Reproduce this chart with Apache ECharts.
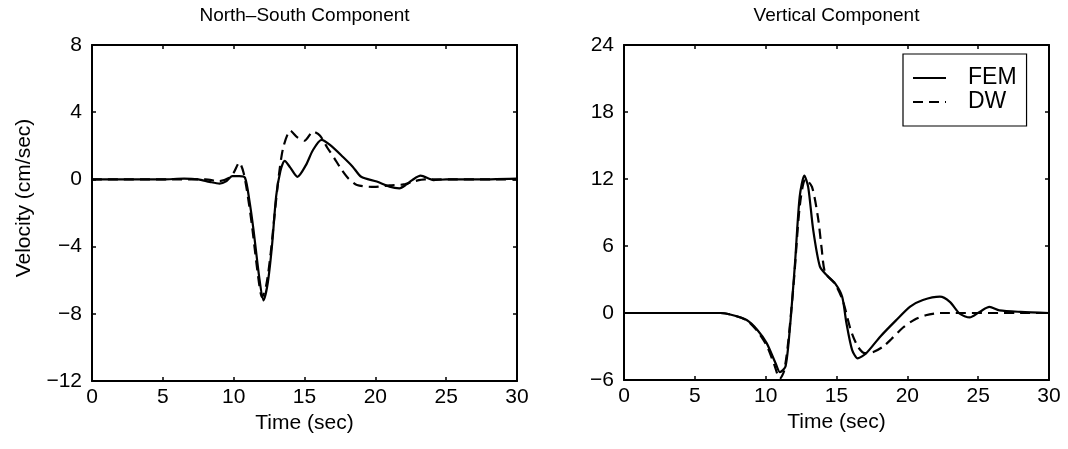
<!DOCTYPE html>
<html>
<head>
<meta charset="utf-8">
<script src="https://cdn.jsdelivr.net/npm/echarts@6/dist/echarts.min.js"></script>
<style>
html,body{margin:0;padding:0;background:#fff;}
#chart{width:1068px;height:449px;}
</style>
</head>
<body>
<div id="chart"></div>
<script>
// ---- Data ----
const titles = ['North\u2013South Component', 'Vertical Component'];
const xTicks = [0, 5, 10, 15, 20, 25, 30];
const nsYTicks = [-12, -8, -4, 0, 4, 8];
const vYTicks = [-6, 0, 6, 12, 18, 24];

// North-South component, FEM (solid)
const nsFemT = [0, 5, 6.5, 7.5, 8.3, 9.0, 9.5, 9.9, 10.4, 10.8, 11.1, 11.4, 11.8, 12.1, 12.4, 12.7, 13.0, 13.3, 13.6, 14.0, 14.5, 15.1, 15.6, 16.2, 16.8, 17.7, 18.4, 19.0, 20.1, 21.0, 21.7, 22.2, 22.6, 23.2, 24.1, 25, 27, 30];
const nsFemV = [0, 0, 0.05, 0, -0.15, -0.25, -0.1, 0.2, 0.2, 0.1, -1.2, -3.0, -5.8, -7.2, -6.2, -4.0, -1.0, 0.5, 1.1, 0.7, 0.15, 0.85, 1.75, 2.35, 2.05, 1.35, 0.76, 0.16, -0.13, -0.43, -0.53, -0.3, -0.04, 0.22, -0.04, 0, 0, 0.05];
// North-South component, DW (dashed)
const nsDwT = [0, 8, 9.0, 9.7, 10.0, 10.4, 10.7, 11.0, 11.3, 11.7, 12.0, 12.3, 12.6, 12.9, 13.2, 13.5, 14.0, 14.5, 15.0, 15.6, 16.1, 16.6, 17.1, 17.6, 18.1, 18.7, 19.9, 21.0, 22.0, 22.8, 23.5, 30];
const nsDwV = [0, 0, -0.1, 0.1, 0.4, 1.0, 0.4, -1.0, -2.8, -5.6, -7.0, -6.3, -4.5, -2.0, 0.3, 1.9, 2.9, 2.5, 2.3, 2.85, 2.6, 1.9, 1.27, 0.6, 0.05, -0.33, -0.45, -0.35, -0.3, -0.1, 0, 0];

// Vertical component, FEM (solid)
const vFemT = [0, 6.8, 7.7, 8.66, 9.4, 10.07, 10.7, 11.0, 11.4, 11.7, 12.07, 12.4, 12.73, 13.0, 13.36, 13.83, 14.3, 14.9, 15.4, 15.7, 16.1, 16.5, 17.1, 18.1, 19.2, 20.2, 21.1, 22.3, 23.0, 23.7, 24.4, 25.1, 25.8, 26.5, 28.0, 30];
const vFemV = [0, 0, -0.2, -0.63, -1.5, -2.7, -4.5, -5.3, -4.8, -1.5, 4.45, 10.4, 12.3, 11.3, 7.4, 4.15, 3.4, 2.65, 1.46, -0.9, -3.3, -4.06, -3.6, -2.1, -0.66, 0.57, 1.16, 1.46, 1.0, -0.06, -0.4, 0.1, 0.54, 0.24, 0.1, 0];
// Vertical component, DW (dashed)
const vDwT = [0, 6.8, 7.7, 8.66, 9.4, 10.07, 10.6, 11.0, 11.3, 11.6, 12.0, 12.4, 12.8, 13.27, 13.7, 13.95, 14.2, 14.9, 15.45, 16.0, 16.5, 17.0, 17.6, 18.3, 18.9, 19.7, 20.5, 21.3, 22.3, 30];
const vDwV = [0, 0, -0.2, -0.65, -1.6, -2.9, -4.6, -5.9, -5.2, -2.5, 3.0, 9.5, 12.0, 11.3, 8.5, 5.8, 3.6, 2.6, 1.1, -1.5, -3.0, -3.6, -3.5, -3.0, -2.3, -1.3, -0.6, -0.2, 0, 0];

// ---- Build chart ----
const FONT = 'Liberation Sans, Arial, Helvetica, sans-serif';
const pairs = (t, v) => t.map((x, i) => [x, v[i]]);
const minusFmt = v => String(v).replace('-', '\u2212');

const grids = [
  {left: 92, top: 45, width: 425, height: 336},
  {left: 624, top: 45, width: 425, height: 335}
];
const yTickSets = [nsYTicks, vYTicks];

const axisLine = {show: true, onZero: false, lineStyle: {color: '#000', width: 2}};
const axisTick = {show: true, inside: true, length: 4, lineStyle: {color: '#000', width: 1.5}};

const xAxis = [], yAxis = [];
grids.forEach((g, i) => {
  const yt = yTickSets[i];
  const yInt = yt[1] - yt[0];
  // bottom x
  xAxis.push({
    type: 'value', gridIndex: i, position: 'bottom',
    min: xTicks[0], max: xTicks[xTicks.length - 1], interval: xTicks[1] - xTicks[0],
    axisLine, axisTick, splitLine: {show: false},
    axisLabel: {color: '#000', fontSize: 21, fontFamily: FONT, margin: 6},
    name: 'Time (sec)', nameLocation: 'middle', nameGap: 31,
    nameTextStyle: {color: '#000', fontSize: 21, fontFamily: FONT}
  });
  // top x (ticks only, carries title)
  xAxis.push({
    type: 'value', gridIndex: i, position: 'top',
    min: xTicks[0], max: xTicks[xTicks.length - 1], interval: xTicks[1] - xTicks[0],
    axisLine, axisTick, splitLine: {show: false}, axisLabel: {show: false},
    name: titles[i], nameLocation: 'middle', nameGap: 20,
    nameTextStyle: {color: '#000', fontSize: 19, fontFamily: FONT}
  });
  // left y
  yAxis.push({
    type: 'value', gridIndex: i, position: 'left',
    min: yt[0], max: yt[yt.length - 1], interval: yInt,
    axisLine, axisTick, splitLine: {show: false},
    axisLabel: {color: '#000', fontSize: 21, fontFamily: FONT, margin: 10, formatter: minusFmt},
    name: i === 0 ? 'Velocity (cm/sec)' : '', nameLocation: 'middle', nameGap: 57,
    nameTextStyle: {color: '#000', fontSize: 21, fontFamily: FONT, padding: [0, 0, 0, 30]}
  });
  // right y (ticks only)
  yAxis.push({
    type: 'value', gridIndex: i, position: 'right',
    min: yt[0], max: yt[yt.length - 1], interval: yInt,
    axisLine, axisTick, splitLine: {show: false}, axisLabel: {show: false}
  });
});

const lineSeries = (name, data, gi, dashed) => ({
  name, type: 'line', data, xAxisIndex: gi * 2, yAxisIndex: gi * 2,
  showSymbol: false, symbol: 'none', smooth: 0.25, animation: false,
  lineStyle: {color: '#000', width: 2.2, type: dashed ? [10, 6] : 'solid'},
  itemStyle: {color: '#000'}
});

const option = {
  backgroundColor: '#fff',
  animation: false,
  grid: grids,
  xAxis, yAxis,
  legend: {
    data: ['FEM', 'DW'],
    orient: 'vertical', left: 903, top: 54,
    backgroundColor: '#fff', borderColor: '#000', borderWidth: 1.2, borderRadius: 0,
    padding: [12, 10, 12, 9],
    itemWidth: 33, itemHeight: 14, itemGap: 0,
    selectedMode: false,
    itemStyle: {color: 'rgba(0,0,0,0)', borderColor: 'rgba(0,0,0,0)', borderWidth: 0, opacity: 0},
    textStyle: {color: '#000', fontSize: 23, fontFamily: FONT, lineHeight: 24, padding: [0, 0, 0, 17]}
  },
  series: [
    lineSeries('FEM', pairs(nsFemT, nsFemV), 0, false),
    lineSeries('DW', pairs(nsDwT, nsDwV), 0, true),
    lineSeries('FEM', pairs(vFemT, vFemV), 1, false),
    lineSeries('DW', pairs(vDwT, vDwV), 1, true)
  ]
};

const chart = echarts.init(document.getElementById('chart'), null, {renderer: 'canvas'});
chart.setOption(option);
</script>
</body>
</html>
